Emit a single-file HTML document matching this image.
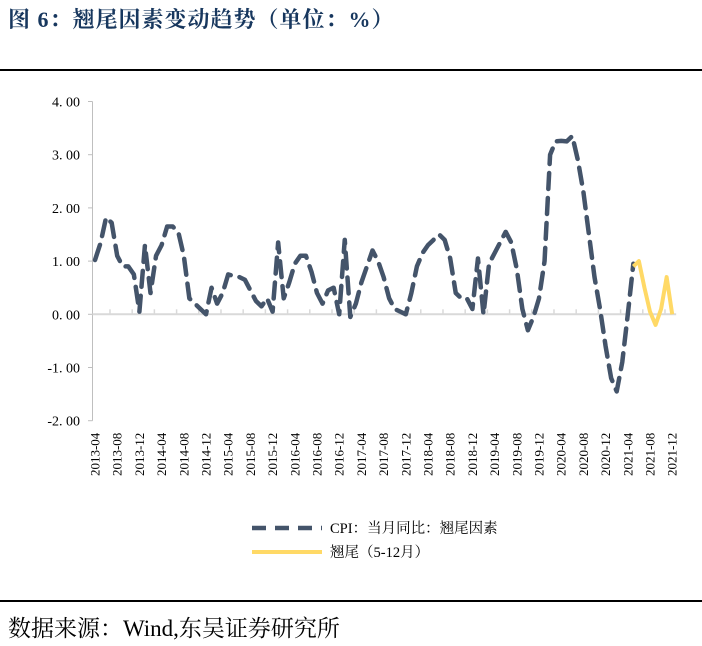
<!DOCTYPE html>
<html><head><meta charset="utf-8"><style>
body{margin:0;background:#fff;width:702px;height:646px;overflow:hidden;font-family:"Liberation Serif","Noto Serif CJK SC",serif}
.title{position:absolute;left:8px;top:3px;font-size:22px;font-weight:bold;color:#17375e;font-family:"Liberation Serif","Noto Serif CJK SC",serif;letter-spacing:1px}
.rule{position:absolute;left:0;width:702px;height:2px;background:#000}
.src{position:absolute;left:8px;top:610px;font-size:23px;color:#000}
</style></head><body>
<div class="title">图 6：翘尾因素变动趋势（单位：%）</div>
<div class="rule" style="top:69px"></div>
<svg id="chart" width="702" height="600" style="position:absolute;left:0;top:0"></svg>
<div class="rule" style="top:600px"></div>
<div class="src">数据来源：Wind,东吴证券研究所</div>
<script>
const months = [];
(function(){let y=2013,m=4;for(let i=0;i<105;i++){months.push(y+'-'+String(m).padStart(2,'0'));m++;if(m>12){m=1;y++;}}})();
const cpiValues = [1.02,1.34,1.82,1.72,1.1,0.9,0.9,0.75,0.05,1.3,0.4,1.1,1.3,1.65,1.65,1.55,1.1,0.3,0.2,0.1,0.0,0.5,0.2,0.4,0.75,0.72,0.7,0.65,0.45,0.25,0.15,0.3,0.05,1.35,0.3,0.6,0.95,1.1,1.1,0.8,0.4,0.2,0.45,0.5,0.0,1.4,-0.05,0.2,0.6,0.9,1.2,1.0,0.7,0.3,0.1,0.05,0.0,0.4,0.9,1.15,1.3,1.4,1.5,1.4,1.05,0.4,0.3,0.3,0.1,1.05,0.0,0.95,1.15,1.35,1.55,1.35,0.85,0.1,-0.3,-0.05,0.3,1.0,3.0,3.25,3.26,3.25,3.35,2.9,2.3,1.5,0.7,0.1,-0.6,-1.2,-1.45,-0.9,0.0,0.95];
const tailValues = [0.9,1.0,0.5,0.05,-0.2,0.1,0.7,0.0];
const tailStart = 97;
const yTicks = [4,3,2,1,0,-1,-2];
const yTickLabels = ["4. 00","3. 00","2. 00","1. 00","0. 00","-1. 00","-2. 00"];
const legendLabels = ["CPI：当月同比：翘尾因素","翘尾（5-12月）"];

const svg=document.getElementById('chart');const NS='http://www.w3.org/2000/svg';
const x0=95,dx=5.55,yZero=314.3,pxU=53.2;
const X=i=>x0+i*dx, Y=v=>yZero-v*pxU;
function mk(t,a,p){const e=document.createElementNS(NS,t);for(const k in a)e.setAttribute(k,a[k]);(p||svg).appendChild(e);return e;}
const ax=mk('line',{x1:92.5,y1:Y(4),x2:92.5,y2:Y(-2),stroke:'#bfbfbf','stroke-width':1});


yTicks.forEach((v,k)=>{
  const tk=mk('line',{x1:88,y1:Y(v),x2:92.5,y2:Y(v),stroke:'#bfbfbf'});
  
  
  const t=mk('text',{x:80,y:Y(v)+5,'text-anchor':'end','font-size':14,fill:'#000','font-family':'Liberation Serif, serif'});
  t.textContent=yTickLabels[k];
  
  
});
const zl=mk('line',{x1:92.5,y1:Y(0),x2:X(104)+4,y2:Y(0),stroke:'#d9d9d9','stroke-width':2});


for(let i=0;i<months.length;i+=4){
  if(i>0){const tk=mk('line',{x1:X(i)-dx*1.3,y1:Y(0)-5,x2:X(i)-dx*1.3,y2:Y(0),stroke:'#d9d9d9','stroke-width':1.5});
  
  }
  const t=mk('text',{x:0,y:0,'font-size':13,fill:'#000','text-anchor':'end','font-family':'Liberation Serif, serif',transform:`translate(${X(i)+4.5},${Y(-2)+12}) rotate(-90)`});
  t.textContent=months[i];
  
  
}
const cpiPath=mk('path',{d:cpiValues.map((v,i)=>(i?'L':'M')+X(i)+','+Y(v)).join(''),fill:'none',stroke:'#44546a','stroke-width':4.5,'stroke-dasharray':'16 9','stroke-linecap':'round','stroke-linejoin':'round'});


const tailPath=mk('path',{d:tailValues.map((v,i)=>(i?'L':'M')+X(tailStart+i)+','+Y(v)).join(''),fill:'none',stroke:'#ffd966','stroke-width':4,'stroke-linejoin':'round'});


const l1=mk('line',{x1:252,y1:528,x2:322,y2:528,stroke:'#44546a','stroke-width':4.5,'stroke-dasharray':'14 9'});


const t1=mk('text',{x:330,y:533,'font-size':14.5,fill:'#000','font-family':'Liberation Serif, Noto Serif CJK SC, serif'});
t1.textContent=legendLabels[0];


const l2=mk('line',{x1:252,y1:552,x2:322,y2:552,stroke:'#ffd966','stroke-width':4});


const t2=mk('text',{x:330,y:557,'font-size':14.5,fill:'#000','font-family':'Liberation Serif, Noto Serif CJK SC, serif'});
t2.textContent=legendLabels[1];


</script>
</body></html>
